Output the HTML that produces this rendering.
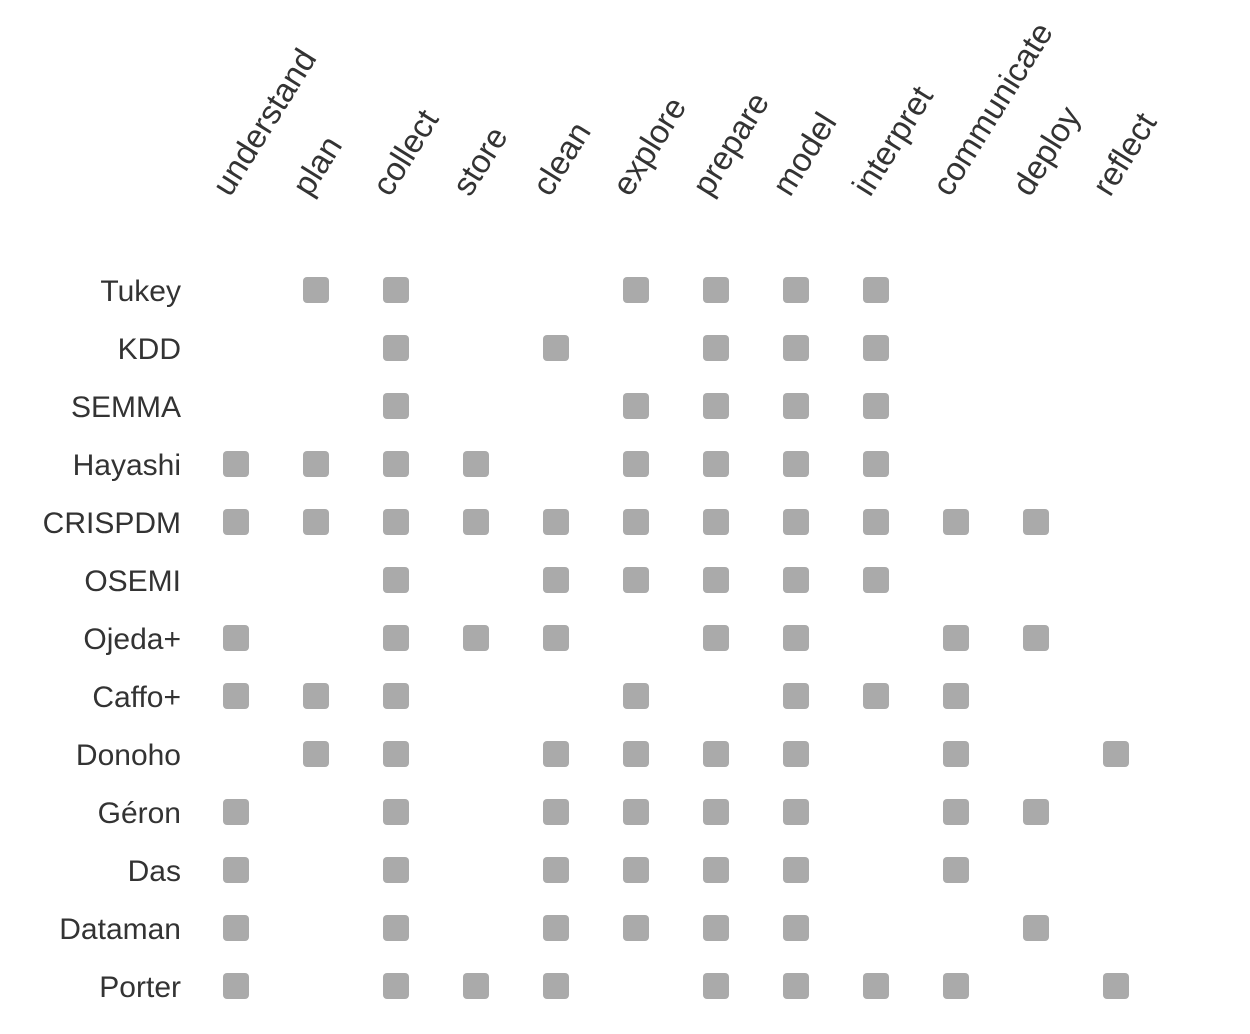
<!DOCTYPE html>
<html><head><meta charset="utf-8"><style>
html,body{margin:0;padding:0;background:#fff;}
svg{display:block;}
text{font-family:"Liberation Sans","DejaVu Sans",sans-serif;fill:#333;}
</style></head>
<body>
<svg id="chart" width="1250" height="1034" viewBox="0 0 1250 1034" xmlns="http://www.w3.org/2000/svg">
<g id="cols"></g>
<g id="rows"></g>
<g id="cells"></g>
</svg>
<script>
const steps = ["understand","plan","collect","store","clean","explore","prepare","model","interpret","communicate","deploy","reflect"];
const models = ["Tukey","KDD","SEMMA","Hayashi","CRISPDM","OSEMI","Ojeda+","Caffo+","Donoho","Géron","Das","Dataman","Porter"];
const Tukey = ["plan","collect","explore","prepare","model","interpret"];
const KDD = ["collect","clean","prepare","model","interpret"];
const SEMMA = ["collect","explore","prepare","model","interpret"];
const Hayashi = ["understand","plan","collect","store","explore","prepare","model","interpret"];
const CRISPDM = ["understand","plan","collect","store","clean","explore","prepare","model","interpret","communicate","deploy"];
const OSEMI = ["collect","clean","explore","prepare","model","interpret"];
const Ojeda = ["understand","collect","store","clean","prepare","model","communicate","deploy"];
const Caffo = ["understand","plan","collect","explore","model","interpret","communicate"];
const Donoho = ["plan","collect","clean","explore","prepare","model","communicate","reflect"];
const Geron = ["understand","collect","clean","explore","prepare","model","communicate","deploy"];
const Das = ["understand","collect","clean","explore","prepare","model","communicate"];
const Dataman = ["understand","collect","clean","explore","prepare","model","deploy"];
const Porter = ["understand","collect","store","clean","prepare","model","interpret","communicate","reflect"];
const membership = [Tukey,KDD,SEMMA,Hayashi,CRISPDM,OSEMI,Ojeda,Caffo,Donoho,Geron,Das,Dataman,Porter];

const NS="http://www.w3.org/2000/svg";
const xScale = i => 236 + i*80;
const yScale = j => 290 + j*58;
const S = 26;
const colsG=document.getElementById('cols'), rowsG=document.getElementById('rows'), cellsG=document.getElementById('cells');

steps.forEach((s,i)=>{
  const t=document.createElementNS(NS,'text');
  const x=xScale(i)-6, y=198;
  t.setAttribute('x',x); t.setAttribute('y',y);
  t.setAttribute('transform',`rotate(-58 ${x} ${y})`);
  t.setAttribute('font-size','33');
  t.textContent=s;
  
  
  colsG.appendChild(t);
});
models.forEach((m,j)=>{
  const t=document.createElementNS(NS,'text');
  t.setAttribute('x',181); t.setAttribute('y',yScale(j)+11);
  t.setAttribute('text-anchor','end');
  t.setAttribute('font-size','30');
  t.textContent=m;
  
  
  rowsG.appendChild(t);
  membership[j].forEach(s=>{
    const i=steps.indexOf(s);
    const r=document.createElementNS(NS,'rect');
    r.setAttribute('x',xScale(i)-S/2); r.setAttribute('y',yScale(j)-S/2);
    r.setAttribute('width',S); r.setAttribute('height',S);
    r.setAttribute('rx',4); r.setAttribute('fill','#aaaaaa');
    
    
    cellsG.appendChild(r);
  });
});
</script>
</body></html>
